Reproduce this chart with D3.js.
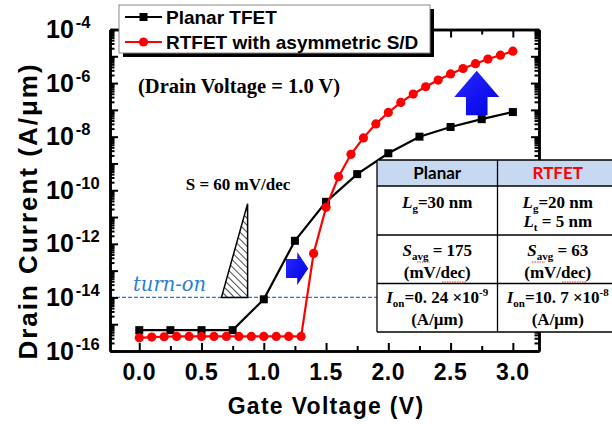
<!DOCTYPE html>
<html>
<head>
<meta charset="utf-8">
<script src="https://cdn.jsdelivr.net/npm/d3@7"></script>
<style>
body { margin: 0; background: #fff; }
svg { display: block; }
</style>
</head>
<body>
<script>
// data
var vgPlanar = [0, 0.25, 0.5, 0.75, 1.0, 1.25, 1.5, 1.75, 2.0, 2.25, 2.5, 2.75, 3.0];
var idPlanar = [6e-16, 6e-16, 6e-16, 6e-16, 8.5e-15, 1.3e-12, 3.7e-11, 4e-10, 2.4e-9, 1e-8, 2.3e-8, 4.5e-8, 8.3e-8];

var vgRt = [0, 0.1, 0.2, 0.3, 0.4, 0.5, 0.6, 0.7, 0.8, 0.9, 1.0, 1.1, 1.2, 1.3,
            1.4, 1.5, 1.6, 1.7, 1.8, 1.9, 2.0, 2.1, 2.2, 2.3, 2.4, 2.5, 2.6, 2.7, 2.8, 2.9, 3.0];
var idRt = [3.1e-16, 3.3e-16, 3.4e-16, 3.5e-16, 3.5e-16, 3.5e-16, 3.5e-16, 3.5e-16, 3.5e-16, 3.5e-16, 3.5e-16, 3.5e-16, 3.5e-16, 3.5e-16,
            4.4e-13, 2.3e-11, 3.2e-10, 2.2e-9, 9e-9, 3e-8, 8e-8, 1.9e-7, 3.9e-7, 7.3e-7, 1.3e-6, 2.2e-6, 3.5e-6, 5.3e-6, 7.9e-6, 1.1e-5, 1.55e-5];

var xTicks = [0, 0.5, 1.0, 1.5, 2.0, 2.5, 3.0];
var xMinor = [0.25, 0.75, 1.25, 1.75, 2.25, 2.75];
var yExp = [-16, -14, -12, -10, -8, -6, -4];
var seriesNames = ["Planar TFET", "RTFET with asymmetric S/D"];
var turnOn = 1e-14;

var width = 612, height = 424;
var x = d3.scaleLinear().domain([-0.235, 3.21]).range([110, 539]);
var y = d3.scaleLog().domain([1e-16, 1e-4]).range([351, 29.5]);

var svg = d3.select("body").append("svg")
    .attr("width", width)
    .attr("height", height)
    .style("font-family", "'Liberation Sans', Arial, sans-serif");

svg.append("rect").attr("width", width).attr("height", height).attr("fill", "#fff");

// hatch pattern for the slope triangle
var defs = svg.append("defs");
defs.append("pattern")
    .attr("id", "hatch")
    .attr("patternUnits", "userSpaceOnUse")
    .attr("width", 5).attr("height", 5)
    .attr("patternTransform", "rotate(-45)")
  .append("line")
    .attr("x1", 0).attr("y1", 0).attr("x2", 0).attr("y2", 5)
    .attr("stroke", "#000").attr("stroke-width", 1.4);

var grad = defs.append("linearGradient").attr("id", "blueGrad")
    .attr("x1", 0).attr("y1", 0).attr("x2", 1).attr("y2", 1);
grad.append("stop").attr("offset", "0%").attr("stop-color", "#2a2aff");
grad.append("stop").attr("offset", "100%").attr("stop-color", "#0000e6");

// y minor ticks 2..9 per decade
var yMajor = d3.range(-16, -3).map(function(e) { return Math.pow(10, e); });
var yMinor = [];
d3.range(-16, -4).forEach(function(e) {
  for (var k = 2; k < 10; k++) yMinor.push(k * Math.pow(10, e));
});

// turn-on line
svg.append("line")
    .attr("x1", x.range()[0]).attr("x2", 378)
    .attr("y1", y(turnOn)).attr("y2", y(turnOn))
    .attr("stroke", "#2e74d6").attr("stroke-width", 1.3)
    .attr("stroke-dasharray", "4,2");

svg.append("text")
    .attr("x", 133).attr("y", y(turnOn) - 6)
    .attr("fill", "#2a7fcf")
    .style("font-family", "'DejaVu Serif', serif")
    .style("font-style", "italic")
    .style("font-size", "19.5px")
    .text("turn-on");

// 60 mV/dec triangle
var tv1 = 0.87, tv0 = 0.66;
var tTop = turnOn * Math.pow(10, (tv1 - tv0) / 0.06);
svg.append("path")
    .attr("d", "M" + x(tv0) + "," + y(turnOn) + "L" + x(tv1) + "," + y(turnOn) + "L" + x(tv1) + "," + y(tTop) + "Z")
    .attr("fill", "url(#hatch)")
    .attr("stroke", "#000").attr("stroke-width", 1.5);

svg.append("text")
    .attr("x", 238).attr("y", 190)
    .attr("text-anchor", "middle")
    .style("font-family", "'Liberation Serif', 'Times New Roman', serif")
    .style("font-weight", "bold")
    .style("font-size", "17px")
    .text("S = 60 mV/dec");

svg.append("text")
    .attr("x", 138).attr("y", 93)
    .style("font-family", "'Liberation Serif', 'Times New Roman', serif")
    .style("font-weight", "bold")
    .style("font-size", "20.5px")
    .text("(Drain Voltage = 1.0 V)");

// blue arrows
var ax0 = x(1.178), ax1 = x(1.357), ay = y(1.2e-13);
svg.append("path")
    .attr("d", "M" + ax0 + "," + (ay - 9.5) + "H" + (ax1 - 11) + "V" + (ay - 16.5) + "L" + ax1 + "," + ay +
               "L" + (ax1 - 11) + "," + (ay + 16.5) + "V" + (ay + 9.5) + "H" + ax0 + "Z")
    .attr("fill", "url(#blueGrad)");

var ux = x(2.71), uTop = y(2.9e-6), uBase = y(3.0e-7), uBot = y(6.3e-8);
svg.append("path")
    .attr("d", "M" + (ux - 10.8) + "," + uBot + "V" + uBase + "H" + (ux - 22.5) + "L" + ux + "," + uTop +
               "L" + (ux + 22.5) + "," + uBase + "H" + (ux + 10.8) + "V" + uBot + "Z")
    .attr("fill", "url(#blueGrad)");

// series
var line = d3.line()
    .x(function(d) { return x(d[0]); })
    .y(function(d) { return y(d[1]); });

var planar = vgPlanar.map(function(v, i) { return [v, idPlanar[i]]; });
var rt = vgRt.map(function(v, i) { return [v, idRt[i]]; });

svg.append("path").datum(planar)
    .attr("d", line).attr("fill", "none")
    .attr("stroke", "#000").attr("stroke-width", 2.2);
svg.selectAll(".sq").data(planar).enter().append("rect")
    .attr("x", function(d) { return x(d[0]) - 4; })
    .attr("y", function(d) { return y(d[1]) - 4; })
    .attr("width", 8).attr("height", 8)
    .attr("fill", "#000");

svg.append("path").datum(rt)
    .attr("d", line).attr("fill", "none")
    .attr("stroke", "#ff0000").attr("stroke-width", 2.2);
svg.selectAll(".ci").data(rt).enter().append("circle")
    .attr("cx", function(d) { return x(d[0]); })
    .attr("cy", function(d) { return y(d[1]); })
    .attr("r", 4.6)
    .attr("fill", "#ff0000");

// frame + ticks (all pointing inward)
function tickAxis(gen, t, vals, size) {
  var g = svg.append("g").attr("transform", t)
      .call(gen.tickValues(vals).tickSizeInner(size).tickSizeOuter(0).tickFormat(""));
  g.select(".domain").attr("stroke", "#000").attr("stroke-width", 2.5);
  g.selectAll(".tick line").attr("stroke", "#000").attr("stroke-width", 2);
  return g;
}
var yb = y.range()[0], yt = y.range()[1], xl = x.range()[0], xr = x.range()[1];
tickAxis(d3.axisBottom(x), "translate(0," + yb + ")", xTicks, -8);
tickAxis(d3.axisBottom(x), "translate(0," + yb + ")", xMinor, -5);
tickAxis(d3.axisTop(x), "translate(0," + yt + ")", xTicks, -8);
tickAxis(d3.axisTop(x), "translate(0," + yt + ")", xMinor, -5);
tickAxis(d3.axisLeft(y), "translate(" + xl + ",0)", yMajor, -8);
tickAxis(d3.axisLeft(y), "translate(" + xl + ",0)", yMinor, -4.5);
tickAxis(d3.axisRight(y), "translate(" + xr + ",0)", yMajor, -8);
tickAxis(d3.axisRight(y), "translate(" + xr + ",0)", yMinor, -4.5);

// tick labels
svg.selectAll(".xl").data(xTicks).enter().append("text")
    .attr("x", function(d) { return x(d); })
    .attr("y", 380)
    .attr("text-anchor", "middle")
    .style("font-weight", "bold").style("font-size", "23px")
    .style("letter-spacing", "0.5px")
    .text(function(d) { return d3.format(".1f")(d); });

var yl = svg.selectAll(".yl").data(yExp).enter().append("text")
    .attr("x", 46)
    .attr("y", function(d) { return y(Math.pow(10, d)) + 8.5; })
    .style("font-weight", "bold");
yl.append("tspan").style("font-size", "25px").text("10");
yl.append("tspan").attr("dx", 2).attr("dy", -10).style("font-size", "16.5px")
    .text(function(d) { return String(d); });

// axis titles
svg.append("text")
    .attr("x", 326).attr("y", 413.5)
    .attr("text-anchor", "middle")
    .style("font-weight", "bold").style("font-size", "23px")
    .style("letter-spacing", "1.3px")
    .text("Gate Voltage (V)");

svg.append("text")
    .attr("transform", "translate(37,211) rotate(-90)")
    .attr("text-anchor", "middle")
    .style("font-weight", "bold").style("font-size", "26px")
    .style("letter-spacing", "2px")
    .text("Drain Current (A/\u03bcm)");

// legend
var lg = svg.append("g");
lg.append("rect").attr("x", 123).attr("y", 9).attr("width", 311).attr("height", 48).attr("fill", "#000");
lg.append("rect").attr("x", 119).attr("y", 5).attr("width", 311).attr("height", 48)
    .attr("fill", "#fff").attr("stroke", "#888").attr("stroke-width", 1);
var legY = [17, 42];
var legCol = ["#000", "#ff0000"];
seriesNames.forEach(function(name, i) {
  lg.append("line").attr("x1", 125).attr("x2", 162).attr("y1", legY[i]).attr("y2", legY[i])
      .attr("stroke", legCol[i]).attr("stroke-width", 2.2);
  if (i === 0) {
    lg.append("rect").attr("x", 139.5).attr("y", legY[i] - 4).attr("width", 8).attr("height", 8).attr("fill", "#000");
  } else {
    lg.append("circle").attr("cx", 143.5).attr("cy", legY[i]).attr("r", 4.6).attr("fill", "#ff0000");
  }
  lg.append("text").attr("x", 166).attr("y", legY[i] + 6.8)
      .style("font-weight", "bold").style("font-size", "19px")
      .text(name);
});

// parameter table
var tb = svg.append("g").style("font-family", "'Liberation Serif', 'Times New Roman', serif");
var tx0 = 377, tc = 120.5, rowsY = [160, 186, 235, 283.5, 332];
tb.append("rect").attr("x", tx0).attr("y", rowsY[0]).attr("width", 2 * tc + 10).attr("height", rowsY[4] - rowsY[0])
    .attr("fill", "#fff");
tb.append("rect").attr("x", tx0).attr("y", rowsY[0]).attr("width", 2 * tc + 10).attr("height", rowsY[1] - rowsY[0])
    .attr("fill", "#c6d9f1");
rowsY.forEach(function(r) {
  tb.append("line").attr("x1", tx0).attr("x2", 620).attr("y1", r).attr("y2", r)
      .attr("stroke", "#000").attr("stroke-width", 1.3);
});
[tx0, tx0 + tc].forEach(function(c) {
  tb.append("line").attr("x1", c).attr("x2", c).attr("y1", rowsY[0]).attr("y2", rowsY[4])
      .attr("stroke", "#000").attr("stroke-width", 1.3);
});

var c1 = tx0 + tc / 2, c2 = tx0 + tc * 1.5;
tb.append("text").attr("x", c1).attr("y", 179).attr("text-anchor", "middle")
    .style("font-family", "Lato, 'Open Sans', sans-serif").style("font-weight", "bold").style("font-size", "17px")
    .text("Planar");
tb.append("text").attr("x", c2).attr("y", 179).attr("text-anchor", "middle").attr("fill", "#ff0000")
    .style("font-family", "Lato, 'Open Sans', sans-serif").style("font-weight", "bold").style("font-size", "17px")
    .text("RTFET");

function cell(cx, cy, parts) {
  var t = tb.append("text").attr("x", cx).attr("y", cy).attr("text-anchor", "middle")
      .style("font-weight", "bold").style("font-size", "17px");
  parts.forEach(function(p) {
    var s = t.append("tspan").text(p.t);
    if (p.i) s.style("font-style", "italic");
    if (p.sub) s.attr("dy", 4).style("font-size", "11px");
    if (p.up) s.attr("dy", p.up).style("font-size", "11px");
    if (p.back) s.attr("dy", p.back);
  });
}
cell(c1, 208, [{t: "L", i: 1}, {t: "g", sub: 1}, {t: "=30 nm", back: -4}]);
cell(c2, 208, [{t: "L", i: 1}, {t: "g", sub: 1}, {t: "=20 nm", back: -4}]);
cell(c2, 227, [{t: "L", i: 1}, {t: "t", sub: 1}, {t: " = 5 nm", back: -4}]);
cell(c1, 256, [{t: "S", i: 1}, {t: "avg", sub: 1}, {t: " = 175", back: -4}]);
cell(c2, 256, [{t: "S", i: 1}, {t: "avg", sub: 1}, {t: " = 63", back: -4}]);
cell(c1, 278, [{t: "(mV/dec)"}]);
cell(c2, 278, [{t: "(mV/dec)"}]);
cell(c1, 303, [{t: "I", i: 1}, {t: "on", sub: 1}, {t: "=0. 24 \u00d710", back: -4}, {t: "-9", up: -7}]);
cell(c2, 303, [{t: "I", i: 1}, {t: "on", sub: 1}, {t: "=10. 7 \u00d710", back: -4}, {t: "-8", up: -7}]);
cell(c1, 325, [{t: "(A/\u03bcm)"}]);
cell(c2, 325, [{t: "(A/\u03bcm)"}]);

// spell-check squiggles under "avg" and "dec"
var squig = [[417, 430, 262], [532, 545, 262], [442, 467, 282], [562, 587, 282]];
squig.forEach(function(s) {
  tb.append("line").attr("x1", s[0]).attr("x2", s[1]).attr("y1", s[2]).attr("y2", s[2])
      .attr("stroke", "#e03030").attr("stroke-width", 1).attr("stroke-dasharray", "1.5,1");
});
</script>
</body>
</html>
